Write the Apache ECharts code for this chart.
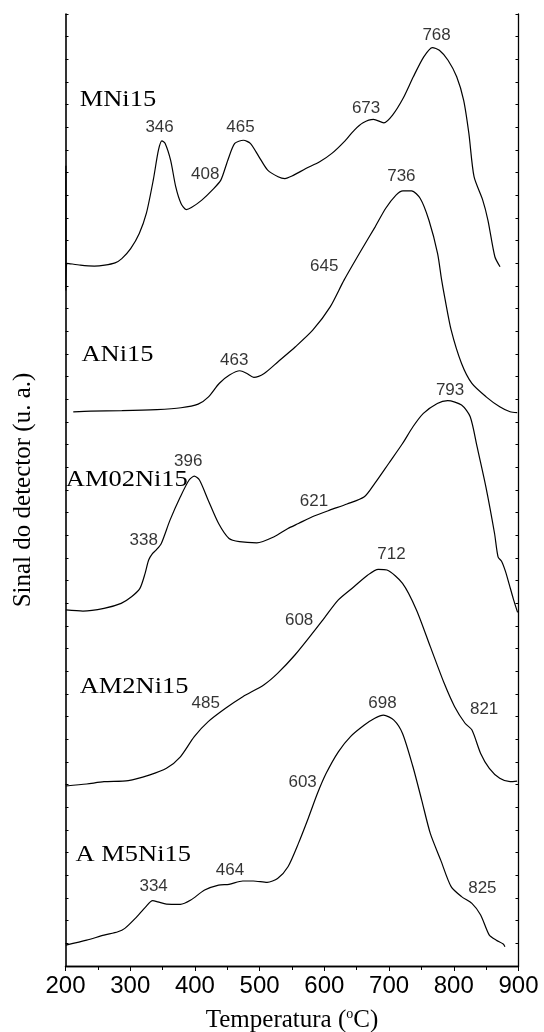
<!DOCTYPE html>
<html>
<head>
<meta charset="utf-8">
<script src="https://cdn.jsdelivr.net/npm/echarts@6/dist/echarts.min.js"></script>
<style>
html,body{margin:0;padding:0;background:#fff;}
#chart{width:544px;height:1032px;}
</style>
</head>
<body>
<div id="chart"></div>
<script>
// x-axis tick labels (°C)
const xTickLabels = [200, 300, 400, 500, 600, 700, 800, 900];

// Curves: [temperature (°C), signal (a.u., stacked offsets)]
const mni15 = [
  [200.6, 35.3], [200.6, 29.8], [203, 31.0], [223, 30.92], [244.5, 30.88], [260.6, 30.92],
  [276.6, 31.02], [287, 31.21], [300.7, 31.65], [314, 32.32], [324.9, 33.2], [335.6, 34.67],
  [343.6, 35.99], [349, 36.4], [354, 36.29], [362.4, 35.55], [370.4, 34.37], [378.5, 33.64],
  [386.5, 33.37], [394.5, 33.46], [410.6, 33.79], [426.7, 34.23], [440, 34.67], [450.8, 35.55],
  [461.5, 36.29], [475, 36.43], [485.6, 36.29], [499, 35.7], [512.4, 35.11], [528.5, 34.82],
  [539, 34.74], [550, 34.85], [571.4, 35.18], [592.8, 35.48], [611.6, 35.85], [630.4, 36.36],
  [646.4, 36.88], [659.8, 37.2], [675.9, 37.35], [692, 37.2], [705.4, 37.54], [721.5, 38.27],
  [737.5, 39.23], [753.6, 40.11], [767, 40.52], [777.7, 40.4], [791.1, 39.96], [804.5, 39.23],
  [815.2, 38.2], [823.3, 36.73], [831.3, 34.82], [844.7, 33.79], [852.8, 32.9], [863.5, 31.29],
  [871.5, 30.85]
];
const ani15 = [
  [212, 24.45], [239, 24.48], [287, 24.5], [341, 24.55], [378.5, 24.63], [405, 24.79],
  [421, 25.11], [437.4, 25.7], [453.4, 26.07], [469.5, 26.26], [480.3, 26.14], [491, 25.97],
  [507, 26.14], [528.5, 26.66], [555.3, 27.32], [582, 28.05], [609, 29.08], [630.4, 30.26],
  [657, 31.58], [678.5, 32.61], [694.6, 33.42], [710.7, 34.01], [721.4, 34.2], [734.8, 34.2],
  [748.2, 33.86], [761.6, 32.9], [775, 31.43], [781, 30.3], [786, 29.5], [796, 28.05],
  [812, 26.58], [828, 25.7], [850, 25.11], [871, 24.67], [887, 24.45], [898, 24.41]
];
const am02ni15 = [
  [200.5, 15.71], [227, 15.66], [259.5, 15.78], [286, 16.0], [302, 16.29], [315, 16.66],
  [323, 17.32], [328.5, 17.91], [334.6, 18.2], [340, 18.35], [348, 18.64], [361.5, 19.67],
  [377.5, 20.7], [391, 21.44], [399, 21.61], [407, 21.44], [420.5, 20.55], [436.6, 19.52],
  [452.7, 18.86], [468.7, 18.72], [495.6, 18.67], [522.4, 18.94], [543.8, 19.3], [559.9, 19.52],
  [581.4, 19.82], [608.2, 20.11], [635, 20.38], [661.8, 20.7], [677.9, 21.29], [699.4, 22.17],
  [720.8, 23.05], [736.9, 23.79], [753, 24.38], [774.5, 24.82], [790.6, 24.94], [812, 24.75],
  [825.4, 24.23], [836, 22.91], [849.6, 21.14], [863, 19.08], [868.4, 18.05], [874, 17.85],
  [880, 17.4], [886, 16.8], [892, 16.2], [898.6, 15.6]
];
const am2ni15 = [
  [200.5, 7.94], [232.7, 8.03], [259.5, 8.13], [297, 8.18], [329.3, 8.42], [356, 8.72],
  [377.5, 9.23], [399, 10.12], [420.5, 10.78], [447.3, 11.37], [474, 11.88], [506.3, 12.4],
  [527.7, 12.91], [554.5, 13.72], [581.4, 14.67], [597.5, 15.26], [621.6, 16.15], [645.7, 16.73],
  [667.2, 17.25], [683.3, 17.5], [696.7, 17.47], [720.8, 16.88], [742.3, 15.71], [763.7, 14.09],
  [785.2, 12.47], [801.3, 11.44], [817.4, 10.71], [828.1, 10.41], [841.5, 9.38], [854.9, 8.72],
  [871, 8.28], [887.1, 8.13], [897.9, 8.16]
];
const am5ni15 = [
  [200.5, 0.92], [232.7, 1.14], [259.5, 1.36], [281, 1.51], [291.7, 1.66], [307.8, 2.1],
  [323.9, 2.61], [334.6, 2.88], [342.7, 2.83], [356, 2.73], [377.5, 2.72], [393.6, 2.91],
  [415, 3.35], [436.6, 3.57], [452.7, 3.6], [474, 3.75], [490.2, 3.75], [511.6, 3.69],
  [527.7, 3.86], [543.8, 4.38], [559.9, 5.41], [575, 6.51], [589.4, 7.62], [602.8, 8.5],
  [621.6, 9.45], [640.4, 10.12], [661.8, 10.63], [677.9, 10.93], [691.3, 11.07], [707.4, 10.85],
  [720.8, 10.26], [736.9, 8.79], [750.4, 7.32], [763.7, 5.85], [779.8, 4.67], [795.9, 3.5],
  [812, 3.06], [828, 2.76], [841.5, 2.25], [854.9, 1.36], [865.7, 1.14], [876.4, 0.97], [879, 0.85]
];

// Sample names (left edge of text, in data units)
const sampleNames = ['MNi15', 'ANi15', 'AM02Ni15', 'AM2Ni15', 'A M5Ni15'];
const sampleNameT = [222, 224.7, 200.5, 222, 215.6];
const sampleNameV = [38.2, 26.95, 21.44, 12.32, 4.89];

// Peak annotations (centre of text, in data units)
const peakText = ['346', '408', '465', '673', '768',
                  '463', '645', '736',
                  '338', '396', '621', '793',
                  '485', '608', '712', '821',
                  '334', '464', '603', '698', '825'];
const peakT = [345.4, 416, 470.3, 664.5, 773.4,
               460.7, 599.9, 719,
               321, 389.6, 584, 794.3,
               416.7, 561, 703.7, 846.9,
               336.2, 454.2, 566.4, 689.7, 844.2];
const peakV = [37.0, 34.93, 37.0, 37.83, 41.07,
               26.73, 30.85, 34.82,
               18.79, 22.25, 20.48, 25.41,
               11.59, 15.26, 18.17, 11.34,
               3.5, 4.23, 8.09, 11.59, 3.42];

const chart = echarts.init(document.getElementById('chart'), null, {renderer: 'canvas'});

const SERIF = '"Liberation Serif", "Times New Roman", serif';
const SANS = '"Liberation Sans", Arial, sans-serif';

function curve(name, data) {
  return {
    name: name, type: 'line', data: data, showSymbol: false, symbol: 'none',
    smooth: 0.25, clip: false,
    lineStyle: {color: '#000', width: 1.2}, silent: true, z: 3
  };
}

const option = {
  animation: false,
  backgroundColor: '#fff',
  grid: {left: 65.5, right: 25.5, top: 14, bottom: 66, containLabel: false, outerBoundsMode: 'none'},
  xAxis: [
    {
      type: 'value', min: 200, max: 900, interval: 100, position: 'bottom',
      name: 'Temperatura ({sup|o}C)', nameLocation: 'middle', nameGap: 41,
      nameTextStyle: {
        fontFamily: SERIF, fontSize: 25, color: '#000',
        rich: {sup: {fontFamily: SERIF, fontSize: 14, color: '#000', verticalAlign: 'top', padding: [0, 0, 12, 0]}}
      },
      axisLine: {show: true, lineStyle: {color: '#000', width: 1.3}},
      axisTick: {show: true, inside: false, length: 5, lineStyle: {color: '#000', width: 1}},
      minorTick: {show: true, splitNumber: 2, length: 4, lineStyle: {color: '#000', width: 1}},
      axisLabel: {
        show: true, margin: 8, fontFamily: SANS, fontSize: 24, color: '#000',
        formatter: function (v) { return xTickLabels.indexOf(v) >= 0 ? String(v) : ''; }
      },
      splitLine: {show: false}
    },
    {
      type: 'value', min: 200, max: 900, interval: 50, position: 'top',
      axisLine: {show: true, lineStyle: {color: '#000', width: 1.3}},
      axisTick: {show: true, inside: true, length: 3, lineStyle: {color: '#000'}},
      axisLabel: {show: false}, splitLine: {show: false}
    }
  ],
  yAxis: [
    {
      type: 'value', min: 0, max: 42, interval: 1, position: 'left',
      name: 'Sinal do detector (u. a.)', nameLocation: 'middle', nameGap: 30, nameRotate: 90,
      nameTextStyle: {fontFamily: SERIF, fontSize: 25, color: '#000'},
      axisLine: {show: true, lineStyle: {color: '#000', width: 1.6}},
      axisTick: {show: true, inside: true, length: 3, lineStyle: {color: '#000'}},
      axisLabel: {show: false}, splitLine: {show: false}
    },
    {
      type: 'value', min: 0, max: 42, interval: 1, position: 'right',
      axisLine: {show: true, lineStyle: {color: '#000', width: 1.3}},
      axisTick: {show: true, inside: true, length: 3, lineStyle: {color: '#000'}},
      axisLabel: {show: false}, splitLine: {show: false}
    }
  ],
  series: [
    curve('MNi15', mni15),
    curve('ANi15', ani15),
    curve('AM02Ni15', am02ni15),
    curve('AM2Ni15', am2ni15),
    curve('AM5Ni15', am5ni15),
    {
      name: 'peaks', type: 'scatter', symbolSize: 0, silent: true, z: 5,
      data: peakText.map(function (t, i) { return [peakT[i], peakV[i], t]; }),
      label: {
        show: true, position: 'inside',
        formatter: function (p) { return p.value[2]; },
        fontFamily: SANS, fontSize: 17, color: '#000'
      }
    }
  ]
};

chart.setOption(option);

// Sample-name labels: placed through the axes' scales, slightly widened like the original typeface
const nameGraphics = sampleNames.map(function (n, i) {
  const p = chart.convertToPixel({xAxisIndex: 0, yAxisIndex: 0}, [sampleNameT[i], sampleNameV[i]]);
  return {
    type: 'text', x: p[0], y: p[1], scaleX: 1.15, z: 10, silent: true,
    style: {text: n, fontFamily: SERIF, fontSize: 23, fill: '#000', align: 'left', verticalAlign: 'middle'}
  };
});
chart.setOption({graphic: nameGraphics});
</script>
</body>
</html>
